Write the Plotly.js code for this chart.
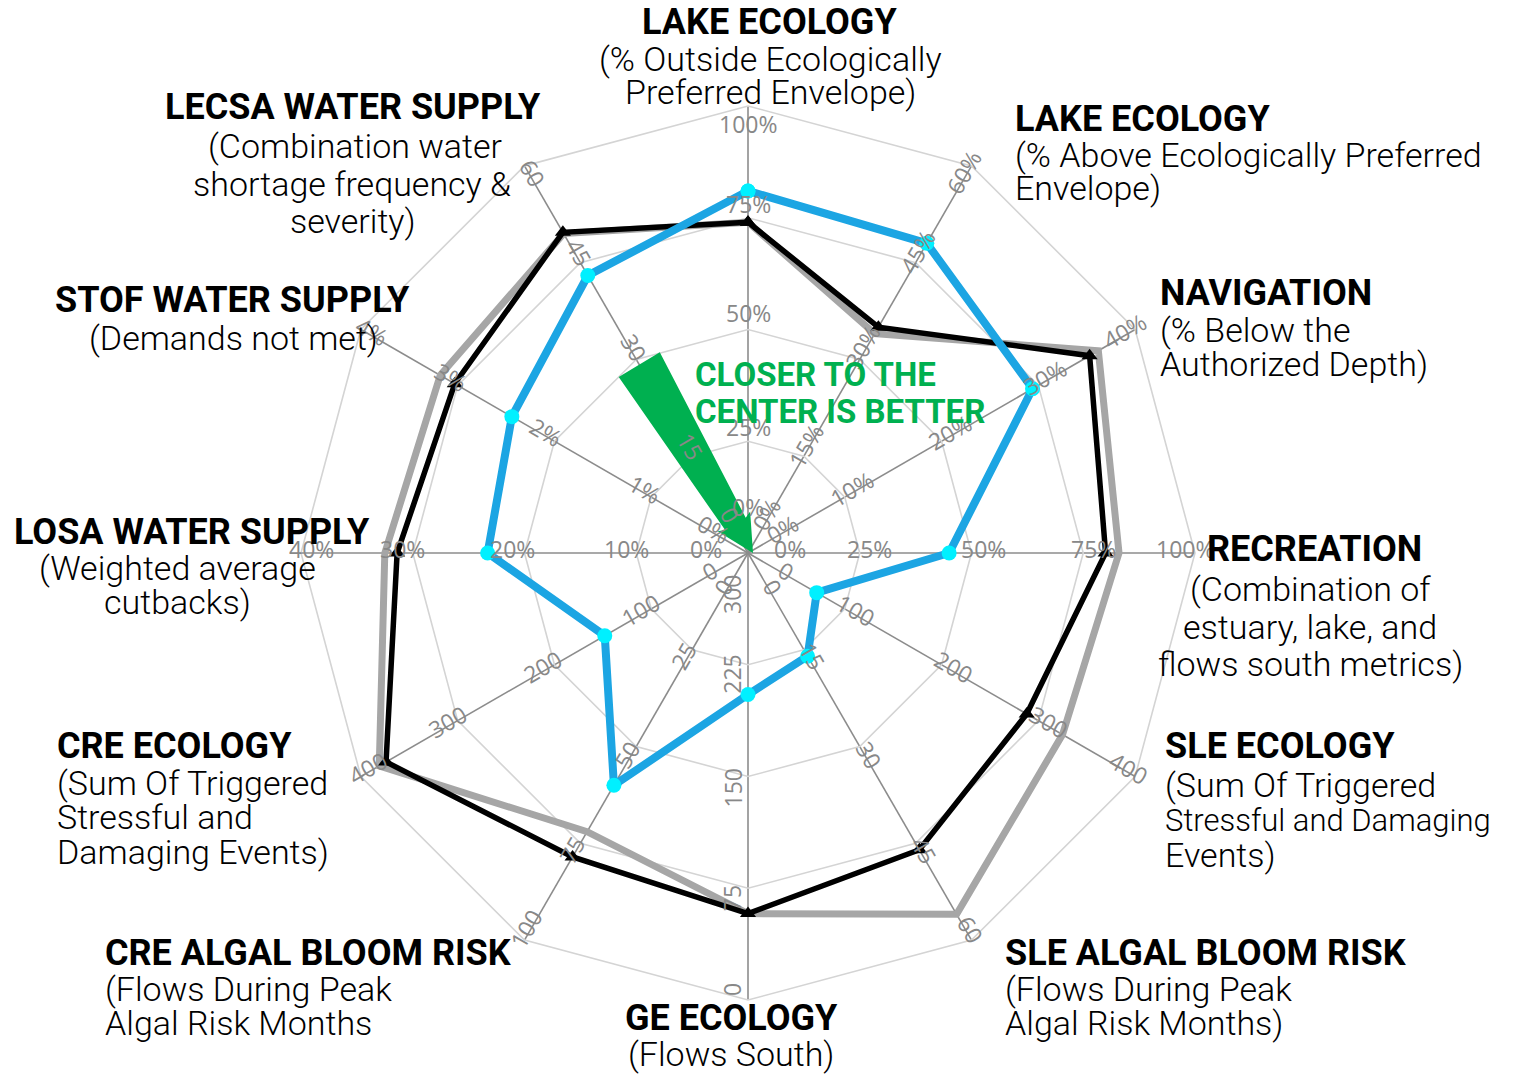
<!DOCTYPE html>
<html><head><meta charset="utf-8">
<script src="https://cdn.plot.ly/plotly-3.0.1.min.js"></script>
<style>html,body{margin:0;padding:0;background:#fff}#chart{width:1514px;height:1074px}</style>
</head><body><div id="chart"></div>
<script>
// ---------------- DATA ----------------
const axisNames = ['Lake Ecology (Outside)','Lake Ecology (Above)','Navigation','Recreation',
  'SLE Ecology','SLE Algal Bloom Risk','GE Ecology','CRE Algal Bloom Risk','CRE Ecology',
  'LOSA Water Supply','STOF Water Supply','LECSA Water Supply'];
const axisMin = [0, 0, 0, 0, 0, 0, 300, 0, 0, 0, 0, 0];
const axisMax = [100, 60, 40, 100, 400, 60, 0, 100, 400, 40, 4, 60];
const tickLabels = [
  ['0%','25%','50%','75%','100%'],
  ['0%','15%','30%','45%','60%'],
  ['0%','10%','20%','30%','40%'],
  ['0%','25%','50%','75%','100%'],
  ['0','100','200','300','400'],
  ['0','15','30','45','60'],
  ['300','225','150','75','0'],
  ['0','25','50','75','100'],
  ['0','100','200','300','400'],
  ['0%','10%','20%','30%','40%'],
  ['0%','1%','2%','3%','4%'],
  ['0','15','30','45','60']
];
const seriesGray  = [74, 34, 36.2, 83, 325, 56, 58, 72, 381, 32.5, 3.18, 49.5];
const seriesBlack = [74, 35, 35.3, 80, 288, 46, 58, 78.5, 374, 31.4, 3.03, 49.7];
const seriesBlue  = [81, 48, 29.4, 45, 71, 16, 205, 60, 148, 23.3, 2.44, 43];

// ---------------- GEOMETRY / LAYOUT ----------------
const W = 1514, H = 1074;
const CX = 748, CY = 553, R = 447;
const RINGS = 4;
function norm(vals){
  return vals.map((v,i)=> (v-axisMin[i])/(axisMax[i]-axisMin[i])*RINGS);
}
function closed(a){ return a.concat([a[0]]); }
const theta = closed(axisNames);

function px(x){ return x/W; }
function py(y){ return 1 - y/H; }

const traces = [
  {type:'scatterpolar', r: closed(norm(seriesGray)), theta, mode:'lines',
   line:{color:'#a6a6a6', width:7}, hoverinfo:'skip'},
  {type:'scatterpolar', r: closed(norm(seriesBlack)), theta, mode:'lines+markers',
   line:{color:'#000000', width:5.5}, marker:{symbol:'triangle-up', size:14, color:'#000'}, hoverinfo:'skip'},
  {type:'scatterpolar', r: closed(norm(seriesBlue)), theta, mode:'lines+markers',
   line:{color:'#1ca5e3', width:8}, marker:{symbol:'circle', size:15, color:'#00f0ff'}, hoverinfo:'skip'}
];

// tick labels along each spoke
const annotations = [];
const tickFont = {family:'Open Sans, Liberation Sans, sans-serif', size:23, color:'#888888'};
const rOff = [42, 10, 12, 10, -10];
axisNames.forEach((name,i)=>{
  const th = i*360/axisNames.length;
  const rad = th*Math.PI/180;
  const dx = Math.sin(rad), dy = -Math.cos(rad);
  let ang;
  if (th === 0) ang = 0;
  else if (th <= 150) ang = th - 90;
  else ang = th - 270;
  const a = ang*Math.PI/180;
  const ux = Math.sin(a), uy = -Math.cos(a);
  const perp = (th === 180) ? 16 : 4;
  tickLabels[i].forEach((lab,k)=>{
    let r = k*R/RINGS + rOff[k];
    if (th === 0 && k === 4) r -= 12;
    const x = CX + r*dx + perp*ux;
    const y = CY + r*dy + perp*uy;
    annotations.push({xref:'paper', yref:'paper', x:px(x), y:py(y), text:lab, showarrow:false,
      xanchor:'center', yanchor:'middle', textangle:ang, font:tickFont});
  });
});

// category titles
const titleFont = 'Roboto, Liberation Sans, sans-serif';
const subFont = 'Roboto, Liberation Sans, sans-serif';
const lines = [
  // text, x, y, anchor, bold, optional size
  ['LAKE ECOLOGY', 769, 22, 'center', 1],
  ['(% Outside Ecologically', 770, 59, 'center', 0],
  ['Preferred Envelope)', 770, 92, 'center', 0],
  ['LAKE ECOLOGY', 1013, 119, 'left', 1],
  ['(% Above Ecologically Preferred', 1013, 155, 'left', 0],
  ['Envelope)', 1013, 188, 'left', 0],
  ['NAVIGATION', 1158, 293, 'left', 1],
  ['(% Below the', 1158, 330, 'left', 0],
  ['Authorized Depth)', 1158, 364, 'left', 0],
  ['RECREATION', 1205, 549, 'left', 1],
  ['(Combination of', 1310, 589, 'center', 0],
  ['estuary, lake, and', 1310, 627, 'center', 0],
  ['flows south metrics)', 1310, 664, 'center', 0],
  ['SLE ECOLOGY', 1163, 746, 'left', 1],
  ['(Sum Of Triggered', 1163, 785, 'left', 0],
  ['Stressful and Damaging', 1163, 820, 'left', 0, 31],
  ['Events)', 1163, 855, 'left', 0],
  ['SLE ALGAL BLOOM RISK', 1003, 953, 'left', 1],
  ['(Flows During Peak', 1003, 989, 'left', 0],
  ['Algal Risk Months)', 1003, 1023, 'left', 0],
  ['GE ECOLOGY', 731, 1018, 'center', 1],
  ['(Flows South)', 731, 1054, 'center', 0],
  ['CRE ALGAL BLOOM RISK', 103, 953, 'left', 1],
  ['(Flows During Peak', 103, 989, 'left', 0],
  ['Algal Risk Months', 103, 1023, 'left', 0],
  ['CRE ECOLOGY', 55, 746, 'left', 1],
  ['(Sum Of Triggered', 55, 783, 'left', 0],
  ['Stressful and', 55, 817, 'left', 0],
  ['Damaging Events)', 55, 852, 'left', 0],
  ['LOSA WATER SUPPLY', 12, 532, 'left', 1],
  ['(Weighted average', 177, 568, 'center', 0],
  ['cutbacks)', 177, 602, 'center', 0],
  ['STOF WATER SUPPLY', 232, 300, 'center', 1],
  ['(Demands not met)', 233, 338, 'center', 0],
  ['LECSA WATER SUPPLY', 353, 107, 'center', 1],
  ['(Combination water', 355, 146, 'center', 0],
  ['shortage frequency &', 352, 184, 'center', 0],
  ['severity)', 353, 221, 'center', 0]
];
lines.forEach(l=>{
  const size = l[5] || (l[4] ? 36 : 34);
  annotations.push({xref:'paper', yref:'paper', x:px(l[1]), y:py(l[2]), text: l[0],
    showarrow:false, xanchor:l[3], yanchor:'middle',
    font:{family: l[4]?titleFont:subFont, size, weight: l[4]?700:300, color:'#000'}});
});
// green note
[['CLOSER TO THE', 693, 374], ['CENTER IS BETTER', 693, 412]].forEach(l=>{
  annotations.push({xref:'paper', yref:'paper', x:px(l[1]), y:py(l[2]), text:l[0], showarrow:false,
    xanchor:'left', yanchor:'middle', font:{family:titleFont, size:33, weight:700, color:'#00b050'}});
});

// green arrow shape (decoration), defined along its own axis from the tip
const tip = [753, 553], dir = [0.517, 0.856], nrm = [0.856, -0.517];
const arrowAP = [[-220,-24],[-220,24],[-34,12],[-37,19],[0,0],[-37,-19],[-34,-12]];
const arrowPts = arrowAP.map(([a,p])=>[tip[0]+a*dir[0]+p*nrm[0], tip[1]+a*dir[1]+p*nrm[1]]);
const arrowPath = 'M ' + arrowPts.map(p=>px(p[0]).toFixed(5)+','+py(p[1]).toFixed(5)).join(' L ') + ' Z';

const layout = {
  width: W, height: H,
  margin:{l:0,r:0,t:0,b:0},
  paper_bgcolor:'#fff',
  showlegend:false,
  polar:{
    domain:{x:[px(CX-R), px(CX+R)], y:[py(CY+R), py(CY-R)]},
    gridshape:'linear',
    bgcolor:'rgba(0,0,0,0)',
    angularaxis:{type:'category', rotation:90, direction:'clockwise', showticklabels:false, ticks:'',
      showgrid:true, gridcolor:'#8c8c8c', gridwidth:1.6, showline:true, linecolor:'#d4d4d4', linewidth:1.6},
    radialaxis:{range:[0,RINGS], tickvals:[1,2,3,4], showticklabels:false, ticks:'', showline:false,
      gridcolor:'#d4d4d4', gridwidth:1.6}
  },
  annotations,
  shapes:[{type:'path', xref:'paper', yref:'paper', path: arrowPath, fillcolor:'#00b050', line:{width:0}, layer:'above'}]
};
Plotly.newPlot('chart', traces, layout, {staticPlot:true, displayModeBar:false});
</script></body></html>
